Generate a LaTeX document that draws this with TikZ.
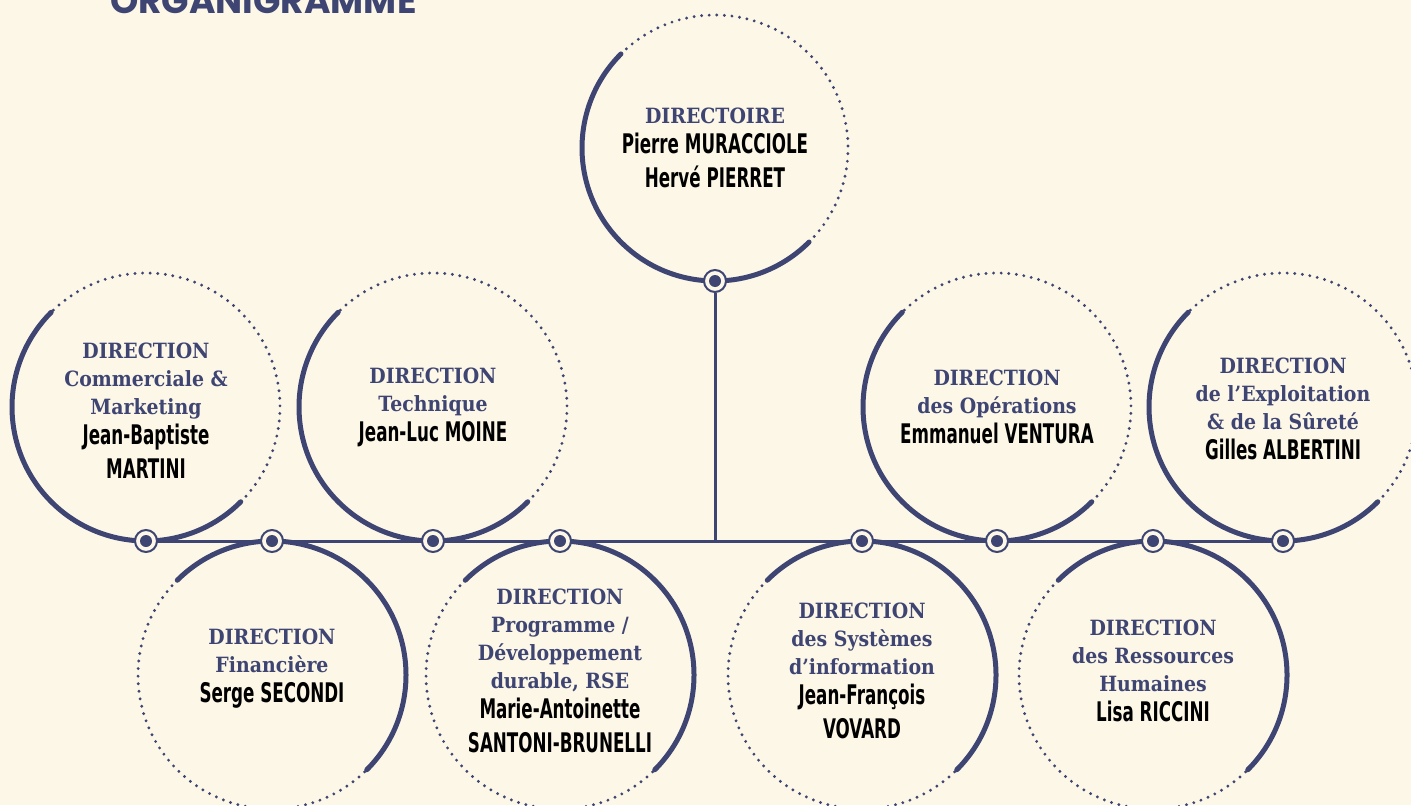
\documentclass[tikz,border=0pt]{standalone}
\usepackage{fontspec}
\setmainfont{DejaVu Serif}[FakeStretch=0.9]
\newfontfamily\namefont[FakeStretch=0.62]{DejaVu Sans}
\newfontfamily\titlefont{Poppins}
\definecolor{navy}{RGB}{62,69,115}
\definecolor{cream}{RGB}{253,247,231}
\newcommand{\who}[1]{{\color{black}\namefont\bfseries\fontsize{13.5}{14}\selectfont #1}}

\begin{document}
\begin{tikzpicture}[x=0.5pt,y=0.5pt,
	ring/.style={navy,line width=2.5pt,line cap=round},
	dots/.style={navy,line width=1.6pt,line cap=round,dash pattern=on 0pt off 3.8pt},
	link/.style={navy,line width=1.5pt},
	knot/.style={circle,draw=navy,line width=1pt,fill=cream,minimum size=11pt,inner sep=0pt,
		path picture={\fill[navy] (path picture bounding box.center) circle (3pt);}},
	post/.style={align=center,text=navy,font=\bfseries\fontsize{10.5}{14}\selectfont}]
\path[use as bounding box,fill=cream] (0,0) rectangle (1411,805);
\node[anchor=base west,text=navy,font=\titlefont\bfseries\fontsize{18}{20}\selectfont] (title) at (103,791) {ORGANIGRAMME};

\draw[ring] (715,657) ++(135:133) arc[start angle=135,delta angle=180,radius=133];
\draw[dots] (715,657) ++(-45:133) arc[start angle=-45,delta angle=180,radius=133];

\draw[ring] (146,398) ++(135:134) arc[start angle=135,delta angle=180,radius=134];
\draw[dots] (146,398) ++(-45:134) arc[start angle=-45,delta angle=180,radius=134];
\draw[ring] (433,398) ++(135:134) arc[start angle=135,delta angle=180,radius=134];
\draw[dots] (433,398) ++(-45:134) arc[start angle=-45,delta angle=180,radius=134];
\draw[ring] (997,398) ++(135:134) arc[start angle=135,delta angle=180,radius=134];
\draw[dots] (997,398) ++(-45:134) arc[start angle=-45,delta angle=180,radius=134];
\draw[ring] (1283,398) ++(135:134) arc[start angle=135,delta angle=180,radius=134];
\draw[dots] (1283,398) ++(-45:134) arc[start angle=-45,delta angle=180,radius=134];

\draw[ring] (272,130) ++(-45:134) arc[start angle=-45,delta angle=180,radius=134];
\draw[dots] (272,130) ++(135:134) arc[start angle=135,delta angle=180,radius=134];
\draw[ring] (560,130) ++(-45:134) arc[start angle=-45,delta angle=180,radius=134];
\draw[dots] (560,130) ++(135:134) arc[start angle=135,delta angle=180,radius=134];
\draw[ring] (862,130) ++(-45:134) arc[start angle=-45,delta angle=180,radius=134];
\draw[dots] (862,130) ++(135:134) arc[start angle=135,delta angle=180,radius=134];
\draw[ring] (1153,130) ++(-45:134) arc[start angle=-45,delta angle=180,radius=134];
\draw[dots] (1153,130) ++(135:134) arc[start angle=135,delta angle=180,radius=134];

\node[knot] (ktop) at (715,524) {};
\node[knot] (kcom) at (146,264) {};
\node[knot] (kfin) at (272,264) {};
\node[knot] (ktec) at (433,264) {};
\node[knot] (kprg) at (560,264) {};
\node[knot] (ksys) at (862,264) {};
\node[knot] (kops) at (997,264) {};
\node[knot] (krh) at (1153,264) {};
\node[knot] (kexp) at (1283,264) {};
\coordinate (fork) at (715,264);

\draw[link] (ktop) -- (fork);
\draw[link] (kcom) -- (kfin);
\draw[link] (kfin) -- (ktec);
\draw[link] (ktec) -- (kprg);
\draw[link] (kprg) -- (ksys);
\draw[link] (ksys) -- (kops);
\draw[link] (kops) -- (krh);
\draw[link] (krh) -- (kexp);

\node[post] (dtop) at (715,657) {DIRECTOIRE\\[1pt]\who{Pierre MURACCIOLE}\\[3pt]\who{Hervé PIERRET}};
\node[post] (dcom) at (146,394) {DIRECTION\\Commerciale \&\\Marketing\\[1pt]\who{Jean-Baptiste}\\[3pt]\who{MARTINI}};
\node[post] (dtec) at (433,398) {DIRECTION\\Technique\\[1pt]\who{Jean-Luc MOINE}};
\node[post] (dops) at (997,398) {DIRECTION\\des Opérations\\[1pt]\who{Emmanuel VENTURA}};
\node[post] (dexp) at (1283,396) {DIRECTION\\de l'Exploitation\\\& de la Sûreté\\[1pt]\who{Gilles ALBERTINI}};
\node[post] (dfin) at (272,136) {DIRECTION\\Financière\\[1pt]\who{Serge SECONDI}};
\node[post] (dprg) at (560,134) {DIRECTION\\Programme /\\Développement\\durable, RSE\\[1pt]\who{Marie-Antoinette}\\[3pt]\who{SANTONI-BRUNELLI}};
\node[post] (dsys) at (862,134) {DIRECTION\\des Systèmes\\d’information\\[1pt]\who{Jean-François}\\[3pt]\who{VOVARD}};
\node[post] (drh) at (1153,134) {DIRECTION\\des Ressources\\Humaines\\[1pt]\who{Lisa RICCINI}};
\end{tikzpicture}
\end{document}
